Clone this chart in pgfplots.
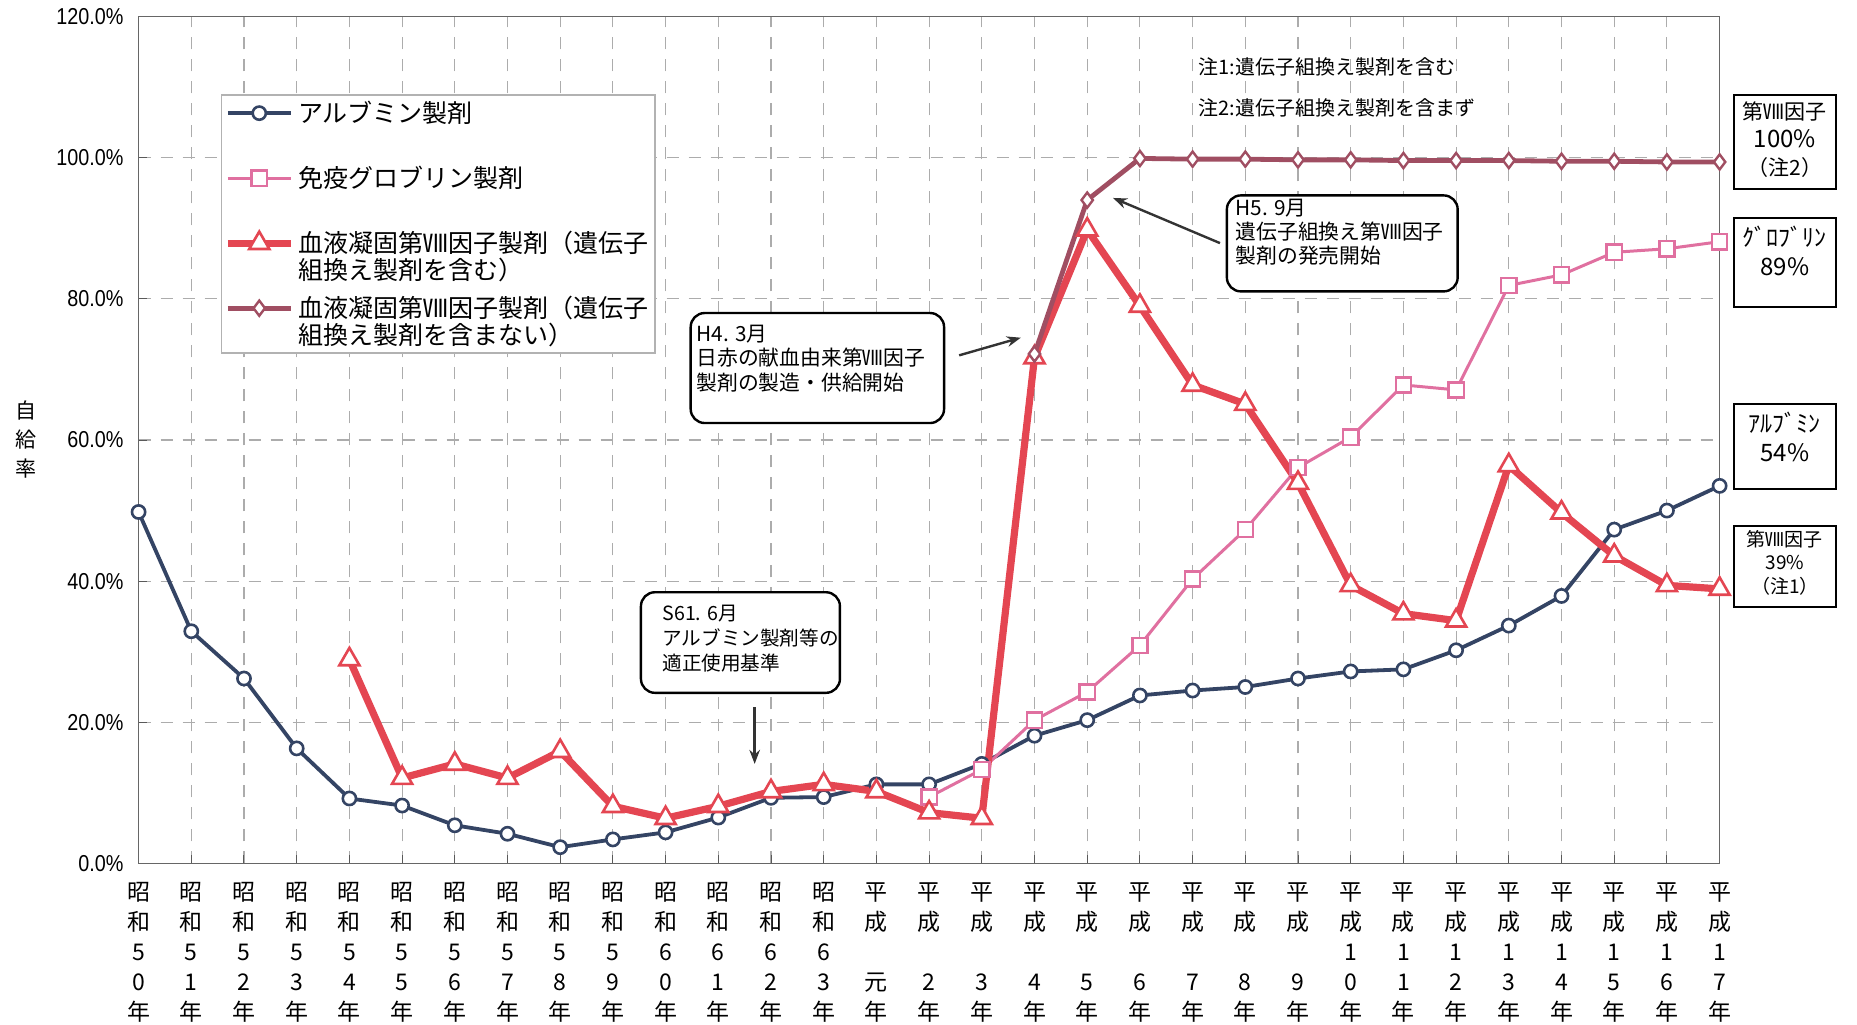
\documentclass[border=0pt]{standalone}
\usepackage{pgfplots}
\pgfplotsset{compat=1.18}
\usepackage{fontspec}
\setmainfont{Noto Sans CJK JP}
\newfontfamily\narrowfont{Liberation Sans}[FakeStretch=0.86]
\usetikzlibrary{arrows.meta}

\definecolor{albcol}{RGB}{52,68,100}
\definecolor{globcol}{RGB}{224,112,160}
\definecolor{fcol}{RGB}{228,70,82}
\definecolor{fncol}{RGB}{160,78,98}

\newcommand{\sh}[2]{昭\\和\\#1\\#2\\年}
\newcommand{\he}[2]{平\\成\\#1\\#2\\年}
% legend entry in two lines, the second one overlaid below the first
\newcommand{\twoline}[2]{\rlap{\raisebox{-13.6pt}[0pt][0pt]{#2}}#1}

\begin{document}
\begin{tikzpicture}
\path[use as bounding box] (-69.3pt,-80.3pt) rectangle (859.2pt,431.7pt);
\begin{axis}[
    at={(0,0)}, anchor=south west,
    scale only axis, width=790.5pt, height=423.4pt,
    xmin=0, xmax=30, ymin=0, ymax=120,
    clip=false,
    axis line style={gray!80!black, line width=0.8pt},
    xtick={0,...,30},
    xticklabels={{\sh50},{\sh51},{\sh52},{\sh53},{\sh54},{\sh55},{\sh56},{\sh57},
      {\sh58},{\sh59},{\sh60},{\sh61},{\sh62},{\sh63},{\he{\mbox{}}{元}},
      {\he{\mbox{}}{2}},{\he{\mbox{}}{3}},{\he{\mbox{}}{4}},{\he{\mbox{}}{5}},
      {\he{\mbox{}}{6}},{\he{\mbox{}}{7}},{\he{\mbox{}}{8}},{\he{\mbox{}}{9}},
      {\he10},{\he11},{\he12},{\he13},{\he14},{\he15},{\he16},{\he17}},
    xticklabel style={align=center, font=\fontsize{11.5}{15}\selectfont, yshift=-6pt},
    ytick={0,20,...,120},
    yticklabels={0.0\%,20.0\%,40.0\%,60.0\%,80.0\%,100.0\%,120.0\%},
    yticklabel style={font=\narrowfont\fontsize{11.5}{13}\selectfont, xshift=-4pt},
    tick style={gray!70!black, line width=0.5pt},
    major tick length=4pt,
    tick pos=left,
    xmajorgrids, ymajorgrids,
    major grid style={gray!65, line width=0.55pt, dash pattern=on 6pt off 5pt},
    legend style={at={(axis cs:1.62,92.5)}, anchor=west, draw=none, fill=none,
      font=\fontsize{12.5}{14}\selectfont, row sep=16.3pt, inner sep=0pt},
    legend cell align=left,
    legend image code/.code={\draw[mark repeat=2,mark phase=2,#1]
      plot coordinates {(0cm,0cm) (0.55cm,0cm) (1.1cm,0cm)};},
  ]
% legend frame
\draw[gray!60, line width=0.6pt, fill=white] (axis cs:1.573,108.9) rectangle (axis cs:9.80,72.33);

\addplot[albcol, line width=1.9pt, mark=*, mark size=3.3pt,
  mark options={fill=white, draw=albcol, line width=1.3pt}] coordinates {
  (0,49.8) (1,32.9) (2,26.2) (3,16.3) (4,9.2) (5,8.2) (6,5.4) (7,4.2) (8,2.3)
  (9,3.4) (10,4.4) (11,6.5) (12,9.3) (13,9.4) (14,11.2) (15,11.2) (16,14.1)
  (17,18.1) (18,20.3) (19,23.8) (20,24.5) (21,25.0) (22,26.2) (23,27.2)
  (24,27.5) (25,30.2) (26,33.7) (27,37.9) (28,47.3) (29,50.0) (30,53.5)};
\addlegendentry{アルブミン製剤}

\addplot[globcol, line width=1.5pt, mark=square*, mark size=3.8pt,
  mark options={fill=white, draw=globcol, line width=1.2pt}] coordinates {
  (15,9.4) (16,13.3) (17,20.3) (18,24.3) (19,30.9) (20,40.3) (21,47.3)
  (22,56.1) (23,60.4) (24,67.8) (25,67.1) (26,81.9) (27,83.4) (28,86.6)
  (29,87.1) (30,88.1)};
\addlegendentry{免疫グロブリン製剤}

\addplot[fcol, line width=3.6pt, mark=triangle*, mark size=5.8pt,
  mark options={fill=white, draw=fcol, line width=1.3pt}] coordinates {
  (4,28.9) (5,12.1) (6,14.1) (7,12.1) (8,15.9) (9,8.1) (10,6.4) (11,8.1)
  (12,10.2) (13,11.2) (14,10.2) (15,7.2) (16,6.4) (17,71.7) (18,89.8)
  (19,79.0) (20,67.8) (21,65.1) (22,53.9) (23,39.4) (24,35.4) (25,34.4)
  (26,56.4) (27,49.7) (28,43.6) (29,39.4) (30,38.9)};
\addlegendentry{\twoline{血液凝固第Ⅷ因子製剤（遺伝子}{組換え製剤を含む）}}

\addplot[fncol, line width=2.4pt, mark=diamond*, mark size=3.8pt,
  mark options={fill=white, draw=fncol, line width=1.2pt}] coordinates {
  (17,72.2) (18,94.0) (19,99.9) (20,99.8) (21,99.8) (22,99.7) (23,99.7)
  (24,99.6) (25,99.6) (26,99.6) (27,99.5) (28,99.5) (29,99.4) (30,99.4)};
\addlegendentry{\twoline{血液凝固第Ⅷ因子製剤（遺伝子}{組換え製剤を含まない）}}

% y label
\node[align=center, font=\fontsize{10.5}{14.5}\selectfont] at (axis cs:-2.135,60.1) {自\\給\\率};

% notes
\node[anchor=west, inner sep=0pt, font=\fontsize{10}{12}\selectfont] at (axis cs:20.11,112.8) {注1:遺伝子組換え製剤を含む};
\node[anchor=west, inner sep=0pt, font=\fontsize{10}{12}\selectfont] at (axis cs:20.11,107.1) {注2:遺伝子組換え製剤を含まず};

% annotation boxes
\node[draw, line width=1.2pt, rounded corners=7pt, fill=white, minimum width=99.5pt, minimum height=50.3pt, inner sep=0pt] at (axis cs:11.42,31.3) {};
\node[anchor=north west, inner sep=0pt, align=left, font=\fontsize{9.8}{12.4}\selectfont] at (axis cs:9.933,36.6) {S61. 6月\\アルブミン製剤等の\\適正使用基準};
\draw[-{Stealth[length=7pt]}, line width=1.2pt, black!80] (axis cs:11.69,22.15) -- (axis cs:11.69,14.1);

\node[draw, line width=1.2pt, rounded corners=7pt, fill=white, minimum width=126.7pt, minimum height=55pt, inner sep=0pt] at (axis cs:12.88,70.2) {};
\node[anchor=north west, inner sep=0pt, align=left, font=\fontsize{10.4}{12.4}\selectfont] at (axis cs:10.58,76.4) {H4. 3月\\日赤の献血由来第Ⅷ因子\\製剤の製造・供給開始};
\draw[-{Stealth[length=7pt]}, line width=1.2pt, black!80] (axis cs:15.57,72.0) -- (axis cs:16.74,74.5);

\node[draw, line width=1.2pt, rounded corners=7pt, fill=white, minimum width=115.4pt, minimum height=48pt, inner sep=0pt] at (axis cs:22.84,87.86) {};
\node[anchor=north west, inner sep=0pt, align=left, font=\fontsize{10.4}{12.1}\selectfont] at (axis cs:20.81,94.2) {H5. 9月\\遺伝子組換え第Ⅷ因子\\製剤の発売開始};
\draw[-{Stealth[length=7pt]}, line width=1.2pt, black!80] (axis cs:20.52,87.9) -- (axis cs:18.49,94.3);

% right-hand boxes
\node[draw, line width=1pt, fill=white, minimum width=50.9pt, minimum height=47.4pt, anchor=north, inner sep=0pt] at (axis cs:31.24,109.1) {};
\node[align=center, font=\fontsize{10.5}{14}\selectfont] at (axis cs:31.24,102.6) {第Ⅷ因子\\{\fontsize{12}{14}\selectfont 100\%}\\（注2）};
\node[draw, line width=1pt, fill=white, minimum width=50.9pt, minimum height=44.4pt, anchor=north, inner sep=0pt] at (axis cs:31.24,91.6) {};
\node[align=center, font=\fontsize{12}{14.5}\selectfont] at (axis cs:31.24,86.8) {ｸﾞﾛﾌﾞﾘﾝ\\89\%};
\node[draw, line width=1pt, fill=white, minimum width=50.9pt, minimum height=42.6pt, anchor=north, inner sep=0pt] at (axis cs:31.24,65.3) {};
\node[align=center, font=\fontsize{12}{14.5}\selectfont] at (axis cs:31.24,60.5) {ｱﾙﾌﾞﾐﾝ\\54\%};
\node[draw, line width=1pt, fill=white, minimum width=50.9pt, minimum height=40.9pt, anchor=north, inner sep=0pt] at (axis cs:31.24,48.0) {};
\node[align=center, font=\fontsize{9.5}{11.8}\selectfont] at (axis cs:31.24,42.6) {第Ⅷ因子\\39\%\\（注1）};
\end{axis}
\end{tikzpicture}
\end{document}
